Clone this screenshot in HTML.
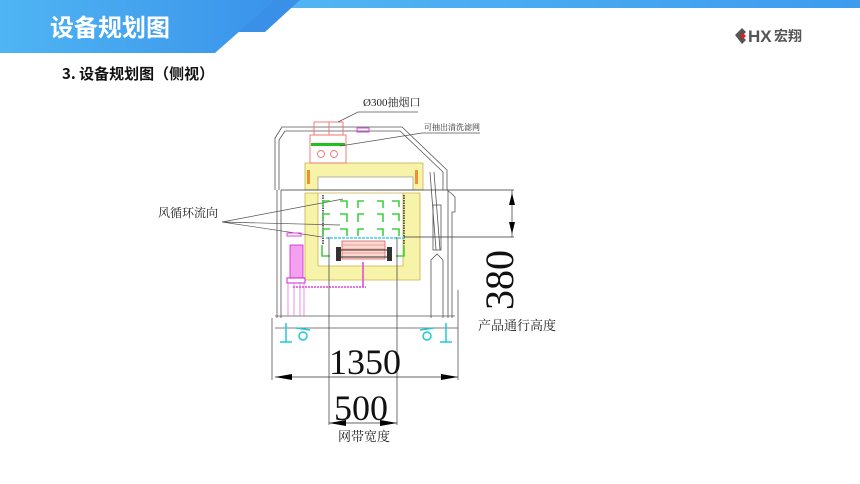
<!DOCTYPE html>
<html><head><meta charset="utf-8"><style>
html,body{margin:0;padding:0;background:#fff;}
body{width:860px;height:484px;overflow:hidden;position:relative;font-family:"Liberation Sans","Noto Sans CJK SC",sans-serif;}
</style></head><body>
<svg width="860" height="484" viewBox="0 0 860 484" xmlns="http://www.w3.org/2000/svg" style="position:absolute;left:0;top:0">
<defs>
<linearGradient id="g1" x1="0" y1="0" x2="1" y2="0"><stop offset="0" stop-color="#4fb5f3"/><stop offset="1" stop-color="#3a93ea"/></linearGradient>
<linearGradient id="g2" x1="0" y1="0" x2="1" y2="0"><stop offset="0" stop-color="#52b6f4"/><stop offset="1" stop-color="#3d9cee"/></linearGradient>
<marker id="ah" markerWidth="10" markerHeight="6" refX="10" refY="3" orient="auto"><path d="M0,0 L10,3 L0,6 z" fill="#000"/></marker>
</defs>
<!-- header -->
<rect x="260" y="0" width="600" height="8" fill="url(#g2)"/>
<polygon points="270,0 300,0 265,32 238,32" fill="#3a8fe6"/>
<polygon points="0,0 275,0 215,53 0,53" fill="url(#g1)"/>
<text x="50" y="36" font-size="24" font-weight="bold" fill="#fff" font-family="'Noto Sans CJK SC',sans-serif">设备规划图</text>
<g transform="translate(735,35)">
<polygon points="0,0 7,-7 11,-3 7,1 11,5 7,9" fill="#555"/>
<polygon points="5,1 8,-2 11,1 8,4" fill="#e02020"/>
</g>
<text x="748" y="42" font-size="17" font-weight="bold" fill="#555">HX</text>
<text x="774" y="41" font-size="14" font-weight="bold" fill="#555" font-family="'Noto Sans CJK SC',sans-serif">宏翔</text>
<text x="62" y="79" font-size="15" font-weight="bold" fill="#111" font-family="'Noto Sans CJK SC',sans-serif">3. 设备规划图（侧视）</text>

<g fill="none" stroke="#555" stroke-width="0.8">
<!-- housing outline -->
<path d="M275,190 L275,138 L282,127 L402,127 L447,170 L447,190"/>
<path d="M279,190 L279,140 L285,131 L400,131 L443,172 L443,190"/>
<path d="M447,190 L452,194 L455,197 L455,212 L452,212 L452,318"/>
<path d="M448,190 L448,318"/>
<path d="M277,190 L277,318 M281,190 L281,318"/>
<line x1="275" y1="316" x2="455" y2="316"/>
<line x1="275" y1="328" x2="458" y2="328"/>
<line x1="272" y1="318" x2="272" y2="380"/>
<line x1="458" y1="290" x2="458" y2="380"/>
</g>
<!-- yellow frames -->
<rect x="305" y="163" width="118" height="27" fill="#f7f3a8" stroke="#c9b24a" stroke-width="0.8"/>
<rect x="318" y="177" width="95" height="13" fill="#fff" stroke="#888" stroke-width="0.6"/>
<path d="M305,193 L420,193 L420,280 L305,280 Z M318,193 L318,266 L403,266 L403,193 Z" fill="#f7f3a8" fill-rule="evenodd" stroke="#c9b24a" stroke-width="0.8"/>
<rect x="307" y="170" width="3" height="14" fill="#f09030"/><rect x="415" y="170" width="3" height="14" fill="#f09030"/>
<!-- chimney -->
<g fill="none" stroke="#f07070" stroke-width="0.9">
<rect x="314" y="122" width="29" height="13"/><line x1="329" y1="122" x2="329" y2="135"/>
<rect x="310" y="135" width="36" height="28"/>
<circle cx="321" cy="154" r="3.5"/><circle cx="334" cy="154" r="3.5"/>
</g>
<rect x="311" y="143" width="34" height="3" fill="#20c020"/>
<rect x="357" y="128" width="12" height="4" fill="none" stroke="#e040e0"/>
<!-- leaders -->
<g stroke="#555" stroke-width="0.7" fill="none">
<path d="M418,112 L358,112 L338,122"/>
<path d="M480,133 L422,133 L340,146"/>
<path d="M222,222 L343,199 M222,222 L340,225 M222,222 L322,237"/>
</g>
<text x="363" y="106" font-size="11" fill="#222" font-family="'Liberation Serif','Noto Serif CJK SC',serif">Ø300抽烟口</text>
<text x="424" y="130" font-size="8" fill="#222" font-family="'Liberation Serif','Noto Serif CJK SC',serif">可抽出清洗滤网</text>
<text x="158" y="217" font-size="12" fill="#222" font-family="'Liberation Serif','Noto Serif CJK SC',serif">风循环流向</text>
<!-- chains -->
<line x1="323" y1="195" x2="323" y2="245" stroke="#333" stroke-width="1.5" stroke-dasharray="1.5 1"/>
<line x1="404" y1="195" x2="404" y2="245" stroke="#333" stroke-width="1.5" stroke-dasharray="1.5 1"/>
<!-- green arrows -->
<g stroke="#40d040" stroke-width="1.6" fill="none">
<path d="M323,207 L323,201 L330,201 M347,208 L347,201 L340,201 M358,208 L358,201 L364,201 M383,208 L383,201 L377,201 M399,207 L399,201 L392,201"/>
<path d="M323,221 L323,214 L330,214 M347,222 L347,214 L340,214 M358,222 L358,214 L364,214 M383,222 L383,214 L377,214 M399,221 L399,214 L392,214"/>
<path d="M323,236 L323,229 L330,229 M347,236 L347,229 L340,229 M358,236 L358,229 L364,229 M383,236 L383,229 L377,229 M399,236 L399,229 L392,229"/>
<path d="M322,245 L322,256 L330,256 M404,245 L404,256 L396,256"/>
</g>
<line x1="326" y1="238" x2="406" y2="238" stroke="#40d0e0" stroke-width="1.5" stroke-dasharray="3 1"/>
<!-- heater -->
<rect x="342" y="241" width="43" height="18" fill="#fbd8d0" stroke="#e06060" stroke-width="0.8"/>
<g stroke="#e06060" stroke-width="0.5"><line x1="342" y1="245" x2="385" y2="245"/><line x1="342" y1="249" x2="385" y2="249"/><line x1="342" y1="253" x2="385" y2="253"/><line x1="342" y1="257" x2="385" y2="257"/></g>
<rect x="336" y="247" width="5" height="14" fill="#333"/><rect x="387" y="247" width="5" height="14" fill="#333"/>
<line x1="336" y1="250" x2="392" y2="250" stroke="#333" stroke-width="1"/><line x1="336" y1="257" x2="392" y2="257" stroke="#333" stroke-width="1"/>
<!-- pink pipe & motor -->
<line x1="363" y1="262" x2="363" y2="287" stroke="#e040e0" stroke-width="1.5"/>
<line x1="293" y1="287" x2="366" y2="287" stroke="#e040e0" stroke-width="1.5" stroke-dasharray="2 1"/>
<rect x="290" y="245" width="13" height="33" fill="#f4a0f0" stroke="#d020d0" stroke-width="0.8"/>
<rect x="287" y="278" width="18" height="5" fill="none" stroke="#d020d0"/>
<path d="M288,283 L288,316 M294,283 L294,316 M300,283 L300,316 M304,283 L304,316" stroke="#e060e0" stroke-width="0.7"/>
<rect x="287" y="233" width="14" height="3" fill="none" stroke="#e040e0"/>
<!-- gas spring -->
<g fill="none" stroke="#555" stroke-width="0.8">
<path d="M430,172 L436,250 M434,172 L440,250"/>
<rect x="433" y="205" width="8" height="45"/>
<path d="M431,318 L431,260 L437,254 L443,260 L443,318"/>
</g>
<!-- feet -->
<g stroke="#20c8d8" stroke-width="1.5" fill="none">
<line x1="286" y1="323" x2="286" y2="342"/><line x1="280" y1="342" x2="292" y2="342"/>
<line x1="446" y1="323" x2="446" y2="342"/><line x1="440" y1="342" x2="452" y2="342"/>
<circle cx="303" cy="336" r="4"/><circle cx="427" cy="336" r="4"/>
<path d="M296,328 L310,330 M420,330 L434,328"/>
</g>
<!-- dimensions -->
<g stroke="#333" stroke-width="0.7" fill="none">
<line x1="281" y1="190" x2="514" y2="190"/>
<line x1="404" y1="237" x2="514" y2="237"/>
<line x1="512" y1="190" x2="512" y2="237"/>
<line x1="329" y1="237" x2="329" y2="425"/>
<line x1="397" y1="237" x2="397" y2="425"/>
<line x1="275" y1="377" x2="458" y2="377"/>
<line x1="329" y1="423" x2="397" y2="423"/>
</g>
<polygon points="512,193 509,205 515,205" fill="#000"/><polygon points="512,234 509,222 515,222" fill="#000"/>
<polygon points="275,377 292,374 292,380" fill="#000"/><polygon points="458,377 441,374 441,380" fill="#000"/>
<polygon points="329,423 346,420 346,426" fill="#000"/><polygon points="397,423 380,420 380,426" fill="#000"/>
<g font-family="'Liberation Serif',serif" fill="#111">
<text transform="translate(513,310) rotate(-90)" font-size="40">380</text>
<text x="329" y="374" font-size="36">1350</text>
<text x="334" y="420" font-size="36">500</text>
</g>
<text x="478" y="330" font-size="13" fill="#222" font-family="'Liberation Serif','Noto Serif CJK SC',serif">产品通行高度</text>
<text x="338" y="441" font-size="13" fill="#222" font-family="'Liberation Serif','Noto Serif CJK SC',serif">网带宽度</text>
</svg>
</body></html>
